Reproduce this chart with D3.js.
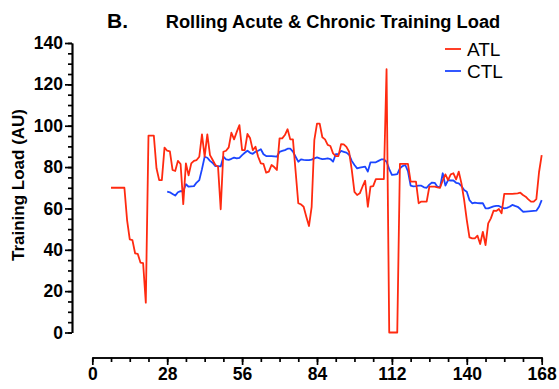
<!DOCTYPE html>
<html>
<head>
<meta charset="utf-8">
<script src="https://cdn.jsdelivr.net/npm/d3@7"></script>
<style>
  html, body { margin: 0; padding: 0; background: #fff; }
  svg { display: block; font-family: "Liberation Sans", Arial, Helvetica, sans-serif; }
</style>
</head>
<body>
<svg id="chart" width="559" height="389"></svg>
<script>
// Acute training load (7-day rolling), one value per day starting on day 7
const atlStartDay = 7;
const atlValues = [
  70, 70, 70, 70, 70, 70, 54.4, 45, 44.7, 38.3, 38, 33.8, 33.5, 14.4,            // 7-20
  95.2, 95.2, 95.2, 79.4, 73.7, 73.7, 89.4, 87.9, 87.6, 78.6,                     // 21-30
  78.1, 83, 81.5, 62.1, 81.8, 76, 81.8, 83, 83.4, 85,                             // 31-40
  95.8, 85, 95.8, 85.8, 83.4, 81, 80.2, 59.6, 87.4, 87.9,                         // 41-50
  89.5, 96.6, 93.4, 97, 100.3, 88.2, 88.2, 96, 93.9, 88.2,                        // 51-60
  89.8, 85, 81.8, 81.5, 77.3, 77.8, 81, 80, 78.6, 93.9,                           // 61-70
  93.9, 95.5, 98.3, 93.4, 93.4, 78, 62.5, 62, 60.8, 56,                           // 71-80
  51.5, 60.8, 93, 101, 101, 94.4, 93.4, 90.7, 90.2, 86.6,                         // 81-90
  85.3, 85.3, 91.1, 91, 89.8, 87.4, 78.6, 68, 66.5, 67.3,                         // 91-100
  70.5, 73.4, 60.8, 70.5, 70.8, 74.2, 74.2, 74.2, 74.2, 127.3,                    // 101-110
  0, 0, 0, 0, 81.5, 81.5, 81.5, 81.5, 73, 73,                                     // 111-120
  73, 62.5, 63.3, 63.3, 63.3, 70.5, 70.5, 70.5, 70.2, 70,                         // 121-130
  73.5, 76.5, 73.7, 76.5, 77, 74, 77.8, 72.1, 64.1, 54.4,                         // 131-140
  46, 45.5, 45.5, 46.8, 42.8, 48.7, 42.3, 52.8, 55.2, 58.9,                       // 141-150
  58.8, 59.7, 57.6, 67, 67, 67, 67, 67.2, 67.3, 67.6,                             // 151-160
  66.5, 65.7, 64.4, 63.3, 63.3, 64.5, 77.5, 85.8                                  // 161-168
];

// Chronic training load (28-day rolling), one value per day starting on day 28
const ctlStartDay = 28;
const ctlValues = [
  68.1, 67.8, 67, 66.2, 67.8, 68.4, 68.3, 71.7, 70.5, 70.7,                       // 28-37
  70.8, 72.5, 73.7, 79, 85, 84.5, 83, 82, 80.5, 80.5,                             // 38-47
  80.3, 85, 83.7, 83.5, 84, 84.6, 84.2, 84.5, 85.8, 86.9,                         // 48-57
  87.9, 86.9, 86.4, 87.4, 87.9, 88.6, 86.2, 85.3, 85.3, 85.3,                     // 58-67
  85.2, 85, 87.4, 87.8, 88.2, 88.9, 88.9, 87.5, 85, 82.6,                         // 68-77
  83.7, 83.5, 83.4, 83.4, 83.6, 84.2, 84.7, 84.2, 83.8, 84,                       // 78-87
  84.2, 83.9, 82.6, 86.2, 86.2, 87.8, 87.4, 87, 86, 83,                           // 88-97
  81, 79.4, 79.7, 80, 80.2, 77.8, 82.3, 82.3, 82.3, 83,                           // 98-107
  83.7, 83.7, 82.6, 79, 76.2, 76.4, 76.6, 79.4, 80.5, 81,                         // 108-117
  78, 71, 70.7, 70.8, 71, 71, 70.2, 70, 71.5, 72.5,                               // 118-127
  72.4, 70.5, 70.2, 77, 71, 73.7, 73.5, 73.5, 72.4, 72.1,                         // 128-137
  70.8, 68.9, 68.1, 64, 62.5, 62.8, 62.6, 62.5, 62.5, 60,                         // 138-147
  60, 60.5, 61, 61.2, 61.2, 60.5, 60, 60.3, 60.8, 61.7,                           // 148-157
  61.2, 60.8, 59.7, 58.4, 58.5, 58.6, 58.7, 58.8, 58.9, 60.8, 64                  // 158-168
];

const xMajorTicks = [0, 28, 56, 84, 112, 140, 168];
const yMajorTicks = [0, 20, 40, 60, 80, 100, 120, 140];
const seriesNames = ["ATL", "CTL"];
const seriesColors = ["#ff2a10", "#1b45ff"];

const atl = atlValues.map((v, i) => ({ day: atlStartDay + i, value: v }));
const ctl = ctlValues.map((v, i) => ({ day: ctlStartDay + i, value: v }));

const svg = d3.select("#chart");

const x = d3.scaleLinear().domain([0, 168]).range([92.3, 541.7]);
const y = d3.scaleLinear().domain([0, 140]).range([332.5, 43]);

// Detached axes: y axis sits left of the plot, x axis below it
const yAxisX = 72;
const xAxisY = 357.5;

function styleAxis(g) {
  g.select(".domain").attr("stroke", "#000").attr("stroke-width", 1.7);
  g.selectAll(".tick line").attr("stroke", "#000").attr("stroke-width", 1.7);
  g.selectAll(".tick text")
    .attr("fill", "#000")
    .style("font-size", "17.5px")
    .style("font-weight", "bold");
}

// Minor ticks every 5 units on y, every 7 days on x
svg.append("g")
  .attr("transform", `translate(${yAxisX},0)`)
  .call(d3.axisLeft(y).tickValues(d3.range(0, 141, 5)).tickSize(4).tickSizeOuter(0).tickFormat(""))
  .call(styleAxis);

svg.append("g")
  .attr("transform", `translate(${yAxisX},0)`)
  .call(d3.axisLeft(y).tickValues(yMajorTicks).tickSize(7).tickSizeOuter(0).tickPadding(2))
  .call(styleAxis);

svg.append("g")
  .attr("transform", `translate(0,${xAxisY})`)
  .call(d3.axisBottom(x).tickValues(d3.range(0, 169, 7)).tickSize(4.5).tickSizeOuter(0).tickFormat(""))
  .call(styleAxis);

svg.append("g")
  .attr("transform", `translate(0,${xAxisY})`)
  .call(d3.axisBottom(x).tickValues(xMajorTicks).tickSize(7.5).tickSizeOuter(0).tickPadding(3))
  .call(styleAxis);

const line = d3.line().x(d => x(d.day)).y(d => y(d.value));

svg.append("path")
  .datum(ctl)
  .attr("fill", "none")
  .attr("stroke", seriesColors[1])
  .attr("stroke-width", 1.8)
  .attr("stroke-linejoin", "round")
  .attr("d", line);

svg.append("path")
  .datum(atl)
  .attr("fill", "none")
  .attr("stroke", seriesColors[0])
  .attr("stroke-width", 1.8)
  .attr("stroke-linejoin", "round")
  .attr("d", line);

// Legend
const legend = svg.append("g").attr("transform", "translate(445,49)");
seriesNames.forEach((name, i) => {
  const g = legend.append("g").attr("transform", `translate(0,${i * 22})`);
  g.append("line").attr("x1", 0).attr("x2", 16).attr("y1", 0).attr("y2", 0)
    .attr("stroke", seriesColors[i]).attr("stroke-width", 1.8);
  g.append("text").attr("x", 22).attr("y", 7)
    .style("font-size", "19px").attr("fill", "#000").text(name);
});

// Y axis title
svg.append("text")
  .attr("transform", `translate(24,185) rotate(-90)`)
  .attr("text-anchor", "middle")
  .style("font-size", "17px")
  .style("font-weight", "bold")
  .text("Training Load (AU)");

// Panel letter and title
svg.append("text")
  .attr("x", 107).attr("y", 28)
  .style("font-size", "21px").style("font-weight", "bold")
  .text("B.");

svg.append("text")
  .attr("x", 333).attr("y", 28)
  .attr("text-anchor", "middle")
  .style("font-size", "18.3px").style("font-weight", "bold")
  .text("Rolling Acute & Chronic Training Load");
</script>
</body>
</html>
